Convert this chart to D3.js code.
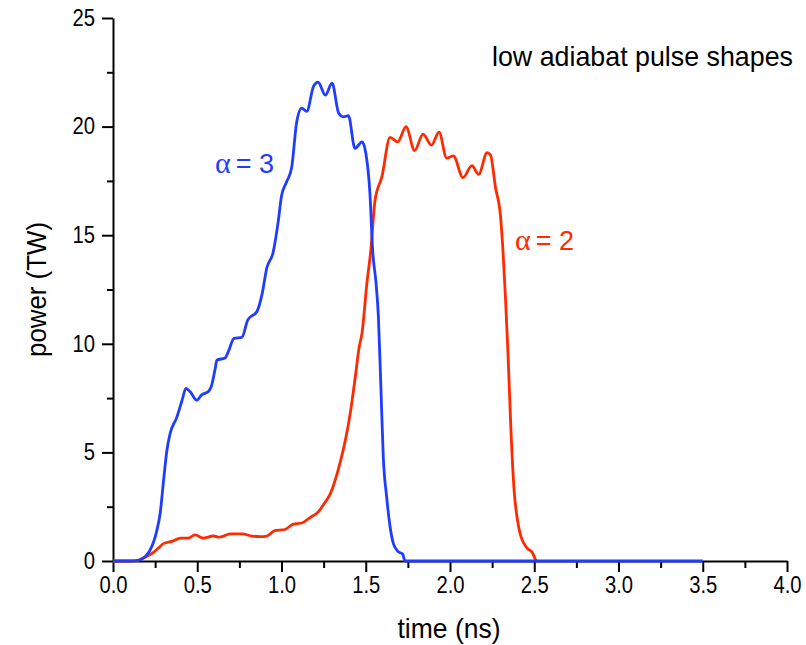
<!DOCTYPE html>
<html>
<head>
<meta charset="utf-8">
<script src="https://cdn.jsdelivr.net/npm/d3@7"></script>
<style>
  body { margin: 0; background: #fff; }
  svg { display: block; font-family: "Liberation Sans", Arial, sans-serif; }
</style>
</head>
<body>
<div id="chart"></div>
<script>
// alpha = 3 pulse (blue)
const blueTime = [0, 0.10, 0.15, 0.19, 0.22, 0.26, 0.28, 0.30, 0.32, 0.34, 0.378, 0.41, 0.433, 0.457, 0.497, 0.526, 0.566, 0.586, 0.605,
  0.617, 0.665, 0.685, 0.718, 0.765, 0.80, 0.855, 0.885, 0.913, 0.95, 0.98, 1.0, 1.03, 1.06, 1.09, 1.12, 1.15, 1.19, 1.217,
  1.26, 1.30, 1.34, 1.367, 1.397, 1.436, 1.478, 1.50, 1.525, 1.541, 1.561, 1.575, 1.589, 1.604, 1.624, 1.644, 1.664, 1.693,
  1.719, 1.733, 3.5]
const bluePower = [0, 0, 0.03, 0.2, 0.5, 1.4, 2.2, 3.7, 5.1, 5.9, 6.6, 7.4, 7.95, 7.8, 7.4, 7.65, 7.8, 8.1, 8.8,
  9.25, 9.35, 9.65, 10.25, 10.3, 11.1, 11.5, 12.3, 13.5, 14.2, 15.6, 16.8, 17.45, 18.1, 20.2, 20.85, 20.7, 21.85, 22.05,
  21.45, 22.0, 20.6, 20.45, 20.5, 19.0, 19.3, 18.8, 16.9, 14.3, 12.8, 11.25, 8.2, 4.8, 2.95, 1.6, 0.8, 0.43,
  0.32, 0, 0]

// alpha = 2 pulse (red)
const redTime = [0, 0.12, 0.15, 0.18, 0.21, 0.24, 0.27, 0.30, 0.35, 0.40, 0.445, 0.487, 0.535, 0.595, 0.635, 0.695, 0.765,
  0.825, 0.87, 0.913, 0.96, 1.02, 1.07, 1.12, 1.17, 1.217, 1.25, 1.29, 1.35, 1.38, 1.41, 1.44, 1.46, 1.478, 1.507, 1.53,
  1.555, 1.596, 1.644, 1.69, 1.739, 1.79, 1.84, 1.89, 1.935, 1.98, 2.02, 2.077, 2.13, 2.17, 2.22, 2.24, 2.27, 2.30, 2.315,
  2.33, 2.345, 2.36, 2.38, 2.40, 2.415, 2.457, 2.49, 2.51]
const redPower = [0, 0, 0.03, 0.14, 0.25, 0.4, 0.6, 0.8, 0.9, 1.05, 1.05, 1.2, 1.05, 1.15, 1.1, 1.25, 1.25,
  1.15, 1.12, 1.15, 1.4, 1.45, 1.7, 1.75, 2.0, 2.25, 2.6, 3.1, 4.6, 5.6, 6.9, 8.6, 9.8, 10.5, 12.8, 14.3,
  16.6, 17.7, 19.5, 19.3, 20.0, 18.9, 19.65, 19.15, 19.75, 18.55, 18.65, 17.65, 18.2, 17.8, 18.8, 18.7, 17.2, 15.85, 14.2,
  12.0, 9.4, 6.35, 3.3, 1.9, 1.3, 0.6, 0.37, 0]

const xTicks = [0, 0.5, 1.0, 1.5, 2.0, 2.5, 3.0, 3.5, 4.0]
const yTicks = [0, 5, 10, 15, 20, 25]

const width = 806, height = 645
const margin = { top: 18, right: 19, bottom: 84, left: 113 }
const blueColor = '#1f3cff', redColor = '#ff2a00'
const squeeze = 0.88   // the original fonts are drawn slightly narrow

const x = d3.scaleLinear().domain([0, 4]).range([margin.left, width - margin.right])
const y = d3.scaleLinear().domain([0, 25]).range([height - margin.bottom, margin.top])

const svg = d3.select('#chart').append('svg')
    .attr('width', width)
    .attr('height', height)

const line = d3.line()
    .x(d => x(d[0]))
    .y(d => y(d[1]))
    .curve(d3.curveMonotoneX)

const red = d3.zip(redTime, redPower),
    blue = d3.zip(blueTime, bluePower)

// narrow a text element horizontally by the squeeze factor
function narrow(sel) {
    sel.each(function () {
        const w = this.getComputedTextLength()
        d3.select(this).attr('textLength', w * squeeze).attr('lengthAdjust', 'spacingAndGlyphs')
    })
}

// minor ticks
const xMinor = d3.range(0, 4.001, 0.25).filter(v => !xTicks.includes(+v.toFixed(2)))
const yMinor = d3.range(0, 25.001, 2.5).filter(v => !yTicks.includes(+v.toFixed(1)))

svg.append('g')
    .attr('transform', `translate(0,${y(0)})`)
    .call(d3.axisBottom(x).tickValues(xMinor).tickSize(7).tickFormat(''))
    .call(g => g.select('.domain').remove())
    .call(g => g.selectAll('line').attr('stroke-width', 2))

svg.append('g')
    .attr('transform', `translate(${x(0)},0)`)
    .call(d3.axisLeft(y).tickValues(yMinor).tickSize(6).tickFormat(''))
    .call(g => g.select('.domain').remove())
    .call(g => g.selectAll('line').attr('stroke-width', 2))

// major axes
svg.append('g')
    .attr('transform', `translate(0,${y(0)})`)
    .call(d3.axisBottom(x).tickValues(xTicks).tickSize(11).tickSizeOuter(0).tickPadding(5).tickFormat(d3.format('.1f')))
    .call(g => g.select('.domain').attr('stroke-width', 2))
    .call(g => g.selectAll('line').attr('stroke-width', 2))
    .call(g => g.selectAll('text').attr('font-size', 23).attr('fill', '#000')
        .attr('font-family', '"Liberation Sans", Arial, sans-serif').call(narrow))

svg.append('g')
    .attr('transform', `translate(${x(0)},0)`)
    .call(d3.axisLeft(y).tickValues(yTicks).tickSize(11).tickSizeOuter(0).tickPadding(7))
    .call(g => g.select('.domain').attr('stroke-width', 2))
    .call(g => g.selectAll('line').attr('stroke-width', 2))
    .call(g => g.selectAll('text').attr('font-size', 23).attr('fill', '#000')
        .attr('font-family', '"Liberation Sans", Arial, sans-serif').call(narrow))

// curves
svg.append('path')
    .datum(red)
    .attr('fill', 'none')
    .attr('stroke', redColor)
    .attr('stroke-width', 2.8)
    .attr('stroke-linejoin', 'round')
    .attr('d', line)

svg.append('path')
    .datum(blue)
    .attr('fill', 'none')
    .attr('stroke', blueColor)
    .attr('stroke-width', 2.8)
    .attr('stroke-linejoin', 'round')
    .attr('d', line)

// labels
svg.append('text')
    .attr('x', 793)
    .attr('y', 66)
    .attr('text-anchor', 'end')
    .attr('font-size', 28)
    .attr('textLength', 301)
    .attr('lengthAdjust', 'spacingAndGlyphs')
    .text('low adiabat pulse shapes')

svg.append('text')
    .attr('x', (x(0) + x(4)) / 2 - 1)
    .attr('y', 638)
    .attr('text-anchor', 'middle')
    .attr('font-size', 28)
    .attr('textLength', 103)
    .attr('lengthAdjust', 'spacingAndGlyphs')
    .text('time (ns)')

svg.append('text')
    .attr('transform', `translate(46,${(y(0) + y(25)) / 2}) rotate(-90)`)
    .attr('text-anchor', 'middle')
    .attr('font-size', 28)
    .attr('textLength', 135)
    .attr('lengthAdjust', 'spacingAndGlyphs')
    .text('power (TW)')

function alphaLabel(t, p, value, color) {
    const txt = svg.append('text')
        .attr('x', x(t))
        .attr('y', y(p))
        .attr('fill', color)
        .attr('font-size', 27)
    txt.append('tspan')
        .attr('font-family', '"Liberation Serif", "DejaVu Serif", serif')
        .attr('font-size', 30)
        .text('α')
    txt.append('tspan').attr('dx', 5).text('= ' + value)
}

alphaLabel(0.605, 17.85, 3, blueColor)
alphaLabel(2.386, 14.3, 2, redColor)
</script>
</body>
</html>
